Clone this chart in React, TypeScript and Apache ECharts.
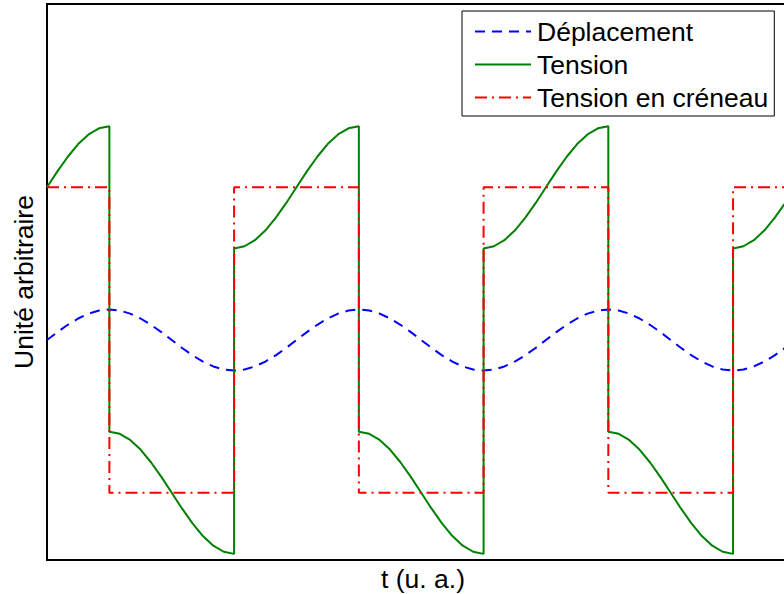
import React, { useEffect, useRef } from "react";
import * as echarts from "echarts";

// Time axis in arbitrary units: one period = 24 units; the picture is cut on the right
const tMin = 0;
const tMax = 70.9;

// Displacement, sampled at t = 0..72
const displacement = [
  0, 0.052, 0.1, 0.141, 0.173, 0.193, 0.2, 0.193, 0.173, 0.141, 0.1, 0.052,
  0, -0.052, -0.1, -0.141, -0.173, -0.193, -0.2, -0.193, -0.173, -0.141, -0.1, -0.052,
  0, 0.052, 0.1, 0.141, 0.173, 0.193, 0.2, 0.193, 0.173, 0.141, 0.1, 0.052,
  0, -0.052, -0.1, -0.141, -0.173, -0.193, -0.2, -0.193, -0.173, -0.141, -0.1, -0.052,
  0, 0.052, 0.1, 0.141, 0.173, 0.193, 0.2, 0.193, 0.173, 0.141, 0.1, 0.052,
  0, -0.052, -0.1, -0.141, -0.173, -0.193, -0.2, -0.193, -0.173, -0.141, -0.1, -0.052,
  0,
];

// Tension, sampled at t = 0..72 (value just before each jump)
const tension = [
  1.0, 1.104, 1.2, 1.283, 1.346, 1.386, 1.4,
  -0.614, -0.654, -0.717, -0.8, -0.896, -1.0, -1.104, -1.2, -1.283, -1.346, -1.386, -1.4,
  0.614, 0.654, 0.717, 0.8, 0.896, 1.0, 1.104, 1.2, 1.283, 1.346, 1.386, 1.4,
  -0.614, -0.654, -0.717, -0.8, -0.896, -1.0, -1.104, -1.2, -1.283, -1.346, -1.386, -1.4,
  0.614, 0.654, 0.717, 0.8, 0.896, 1.0, 1.104, 1.2, 1.283, 1.346, 1.386, 1.4,
  -0.614, -0.654, -0.717, -0.8, -0.896, -1.0, -1.104, -1.2, -1.283, -1.346, -1.386, -1.4,
  0.614, 0.654, 0.717, 0.8, 0.896, 1.0,
];

// Jumps of the square wave and the tension value right after each jump
const jumpTimes = [6, 18, 30, 42, 54, 66];
const tensionAfterJump = [-0.6, 0.6, -0.6, 0.6, -0.6, 0.6];

// Square wave ("Tension en créneau"): segment boundaries and levels
const squareBounds = [0, 6, 18, 30, 42, 54, 66, 72];
const squareLevels = [1, -1, 1, -1, 1, -1, 1];

const seriesNames = ["Déplacement", "Tension", "Tension en créneau"];
const xAxisTitle = "t (u. a.)";
const yAxisTitle = "Unité arbitraire";

const FONT = "'Liberation Sans', Arial, Helvetica, sans-serif";
const FS = 26.5;

export default function App() {
  const ref = useRef<HTMLDivElement>(null);

  useEffect(() => {
    if (!ref.current) return;
    const chart = echarts.init(ref.current, undefined, { renderer: "svg" });

    const dispData = displacement.map((v, i) => [i, v]);
    const tensionData: number[][] = [];
    tension.forEach((v, i) => {
      tensionData.push([i, v]);
      const j = jumpTimes.indexOf(i);
      if (j >= 0) tensionData.push([i, tensionAfterJump[j]]);
    });
    const squareData: number[][] = [];
    squareLevels.forEach((lvl, i) => {
      squareData.push([squareBounds[i], lvl]);
      squareData.push([squareBounds[i + 1], lvl]);
    });

    const blackLine = { show: true, onZero: false, lineStyle: { color: "#000000", width: 2 } };

    chart.setOption({
      animation: false,
      backgroundColor: "#ffffff",
      grid: {
        left: 47,
        right: 0,
        top: 4,
        bottom: 34,
        containLabel: false,
        outerBoundsMode: "none",
      },
      legend: {
        data: seriesNames,
        orient: "vertical",
        left: 462,
        top: 11,
        padding: [7, 6, 5, 12],
        itemGap: 6,
        itemWidth: 56,
        itemHeight: 14,
        backgroundColor: "#ffffff",
        borderColor: "#000000",
        borderWidth: 1,
        borderRadius: 0,
        itemStyle: { color: "transparent", borderColor: "transparent", borderWidth: 0, opacity: 0 },
        textStyle: {
          fontFamily: FONT,
          fontSize: FS,
          color: "#000000",
          lineHeight: 27,
          padding: [0, 0, 0, 1],
        },
      },
      xAxis: [
        {
          type: "value",
          min: tMin,
          max: tMax,
          position: "bottom",
          name: xAxisTitle,
          nameLocation: "middle",
          nameGap: 5,
          nameTextStyle: {
            fontFamily: FONT,
            fontSize: FS,
            lineHeight: 27,
            color: "#000000",
            verticalAlign: "top",
            padding: [0, 0, 0, 15],
          },
          axisLine: blackLine,
          axisTick: { show: false },
          axisLabel: { show: false },
          splitLine: { show: false },
        },
        {
          type: "value",
          min: tMin,
          max: tMax,
          position: "top",
          axisLine: blackLine,
          axisTick: { show: false },
          axisLabel: { show: false },
          splitLine: { show: false },
        },
      ],
      yAxis: {
        type: "value",
        min: -1.44,
        max: 2.2,
        name: yAxisTitle,
        nameLocation: "middle",
        nameGap: 10,
        nameTextStyle: {
          fontFamily: FONT,
          fontSize: FS,
          color: "#000000",
        },
        axisLine: blackLine,
        axisTick: { show: false },
        axisLabel: { show: false },
        splitLine: { show: false },
      },
      series: [
        {
          name: seriesNames[0],
          type: "line",
          data: dispData,
          showSymbol: false,
          symbol: "none",
          lineStyle: { color: "#0000ff", width: 2, type: [10, 7] },
          itemStyle: { color: "#0000ff" },
        },
        {
          name: seriesNames[1],
          type: "line",
          data: tensionData,
          showSymbol: false,
          symbol: "none",
          lineStyle: { color: "#008000", width: 2, type: "solid" },
          itemStyle: { color: "#008000" },
        },
        {
          name: seriesNames[2],
          type: "line",
          data: squareData,
          showSymbol: false,
          symbol: "none",
          lineStyle: { color: "#ff0000", width: 2, type: [12, 5, 2, 5] },
          itemStyle: { color: "#ff0000" },
        },
      ],
    });

    return () => chart.dispose();
  }, []);

  return (
    <div
      ref={ref}
      style={{ position: "fixed", left: 0, top: 0, width: 784, height: 594 }}
    />
  );
}
